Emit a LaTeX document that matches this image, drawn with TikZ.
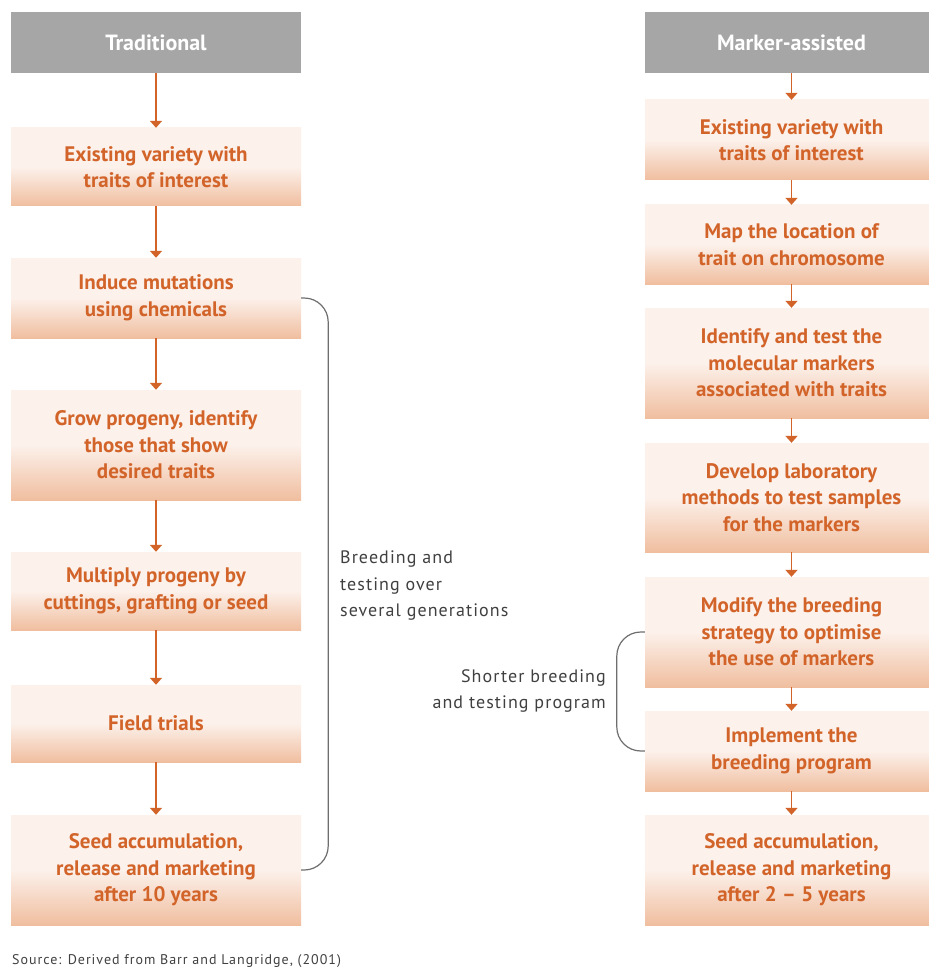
\documentclass[tikz,border=0pt]{standalone}
\usepackage{fontspec}
\setmainfont{PT Sans}
\usetikzlibrary{arrows.meta}
\definecolor{orn}{HTML}{D2642A}
\definecolor{hdr}{HTML}{A6A6A6}
\definecolor{blight}{HTML}{FCF1EB}
\definecolor{bdark}{HTML}{F0BE9F}
\definecolor{brc}{HTML}{6E6E6E}
\definecolor{lbl}{HTML}{404040}
\pgfdeclareverticalshading{boxshade}{100bp}{color(0bp)=(bdark); color(25bp)=(bdark); color(50bp)=(blight); color(100bp)=(blight)}
\tikzset{
  box/.style={rectangle, shading=boxshade, minimum width=290pt, inner sep=0pt, align=center,
    text=orn, font=\bfseries\fontsize{21}{26.5}\selectfont},
  rbox/.style={box, minimum width=293pt},
  hbox/.style={rectangle, fill=hdr, minimum width=290pt, minimum height=61pt, inner sep=0pt,
    text=white, font=\bfseries\fontsize{22}{24}\selectfont},
  arr/.style={draw=orn, line width=1.8pt, -{Triangle[width=12pt,length=7pt]}},
  brace/.style={draw=brc, line width=1.2pt, rounded corners=24pt},
  lab/.style={inner sep=0pt, text=lbl, font=\fontsize{18}{26.5}\selectfont\addfontfeatures{LetterSpace=6}}
}
\begin{document}
\begin{tikzpicture}[x=1pt,y=-1pt]
\useasboundingbox (0,0) rectangle (928,968);
% left column
\node[hbox] (lh) at (156,42.5) {Traditional};
\node[box, minimum height=78pt] (l1) at (156,167) {Existing variety with\\traits of interest};
\node[box, minimum height=80pt] (l2) at (156,298) {Induce mutations\\using chemicals};
\node[box, minimum height=110pt] (l3) at (156,445) {Grow progeny, identify\\those that show\\desired traits};
\node[box, minimum height=78pt] (l4) at (156,591) {Multiply progeny by\\cuttings, grafting or seed};
\node[box, minimum height=77pt] (l5) at (156,723.5) {Field trials};
\node[box, minimum height=110pt] (l6) at (156,870) {Seed accumulation,\\release and marketing\\after 10 years};
\draw[arr] (lh) -- (l1);
\draw[arr] (l1) -- (l2);
\draw[arr] (l2) -- (l3);
\draw[arr] (l3) -- (l4);
\draw[arr] (l4) -- (l5);
\draw[arr] (l5) -- (l6);
% right column
\node[hbox, minimum width=293pt] (rh) at (791.5,42.5) {Marker-assisted};
\node[rbox, minimum height=80pt] (r1) at (791.5,140) {Existing variety with\\traits of interest};
\node[rbox, minimum height=79pt] (r2) at (791.5,244.5) {Map the location of\\trait on chromosome};
\node[rbox, minimum height=110pt] (r3) at (791.5,363) {Identify and test the\\molecular markers\\associated with traits};
\node[rbox, minimum height=109pt] (r4) at (791.5,497.5) {Develop laboratory\\methods to test samples\\for the markers};
\node[rbox, minimum height=110pt] (r5) at (791.5,632) {Modify the breeding\\strategy to optimise\\the use of markers};
\node[rbox, minimum height=80pt] (r6) at (791.5,751) {Implement the\\breeding program};
\node[rbox, minimum height=110pt] (r7) at (791.5,870) {Seed accumulation,\\release and marketing\\after 2 -- 5 years};
\draw[arr] (rh) -- (r1);
\draw[arr] (r1) -- (r2);
\draw[arr] (r2) -- (r3);
\draw[arr] (r3) -- (r4);
\draw[arr] (r4) -- (r5);
\draw[arr] (r5) -- (r6);
\draw[arr] (r6) -- (r7);
% braces
\draw[brace] (l2.east) -- ++(27,0) |- (l6.east);
\draw[brace] (r5.west) -- ++(-28,0) |- (r6.west);
\node[lab, anchor=west, align=left] (bl) at (340,586) {Breeding and\\testing over\\several generations};
\node[lab, anchor=east, align=right] (sl) at (606,691) {Shorter breeding\\and testing program};
\node[inner sep=0pt, anchor=west, text=lbl, font=\fontsize{14}{16}\selectfont\addfontfeatures{LetterSpace=7}] (src) at (12,961) {Source: Derived from Barr and Langridge, (2001)};
\end{tikzpicture}
\end{document}
